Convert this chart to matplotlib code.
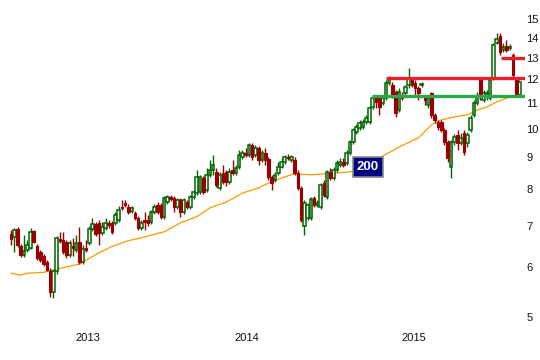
import matplotlib
matplotlib.use('Agg')
import matplotlib.pyplot as plt
import numpy as np

# weekly candles (price)
opens = [6.79, 6.72, 6.91, 6.50, 6.29, 6.40, 6.45, 6.86, 6.50, 6.35,
         6.26, 6.13, 5.91, 5.48, 5.91, 6.66, 6.64, 6.59, 6.29, 6.50,
         6.40, 6.59, 6.13, 6.45, 6.57, 6.91, 7.04, 7.07, 6.82, 6.94,
         7.07, 7.07, 7.07, 7.15, 7.50, 7.61, 7.50, 7.39, 7.34, 7.20,
         6.94, 7.15, 7.15, 7.10, 7.37, 7.56, 7.56, 7.23, 7.64, 7.78,
         7.76, 7.50, 7.70, 7.37, 7.64, 7.50, 7.78, 7.90, 7.93, 8.35,
         7.99, 8.44, 8.60, 8.54, 8.04, 8.51, 8.54, 8.22, 8.60, 8.51,
         8.70, 9.02, 9.15, 9.09, 9.43, 9.09, 9.32, 8.92, 9.15, 8.95,
         8.38, 8.29, 8.51, 8.70, 8.86, 9.02, 8.92, 8.92, 8.51, 8.04,
         6.99, 7.20, 7.20, 7.76, 7.56, 7.50, 8.19, 7.78, 8.54, 8.35,
         8.60, 8.76, 8.86, 8.82, 9.15, 9.53, 9.89, 10.04, 10.07, 10.26,
         10.26, 10.84, 11.21, 11.21, 11.01, 11.21, 11.85, 11.76, 11.46, 10.72,
         11.33, 11.41, 11.76, 11.98, 11.85, 11.63, 11.76, 11.21, 10.92, 11.41,
         10.53, 10.26, 10.26, 9.96, 9.53, 8.70, 9.53, 9.78, 9.50, 9.85,
         9.50, 9.96, 10.53, 11.01, 11.98, 11.13, 11.25, 11.21, 12.07, 13.74,
         14.09, 13.38, 13.58, 13.48, 13.13, 11.98, 11.33]
highs = [6.89, 6.94, 6.97, 6.54, 6.77, 6.64, 6.94, 6.89, 6.54, 6.40,
         6.31, 6.17, 5.99, 5.95, 6.74, 6.84, 6.84, 6.64, 6.64, 6.69,
         6.77, 6.97, 6.52, 6.64, 6.99, 7.20, 7.10, 7.15, 7.10, 7.20,
         7.15, 7.12, 7.37, 7.53, 7.70, 7.70, 7.59, 7.53, 7.39, 7.26,
         7.15, 7.37, 7.28, 7.42, 7.59, 7.64, 7.61, 7.81, 7.84, 7.84,
         7.81, 7.76, 7.76, 7.76, 7.70, 7.84, 7.99, 8.60, 8.44, 8.41,
         8.66, 8.92, 9.09, 8.66, 8.54, 8.76, 8.60, 8.66, 8.92, 8.76,
         9.25, 9.25, 9.32, 9.50, 9.50, 9.43, 9.39, 9.25, 9.32, 9.02,
         8.44, 8.54, 8.86, 8.99, 9.09, 9.12, 9.09, 9.02, 8.60, 8.10,
         7.70, 7.61, 7.78, 7.81, 7.70, 8.19, 8.29, 8.60, 8.66, 8.70,
         8.92, 8.99, 8.99, 9.25, 9.60, 10.04, 10.19, 10.34, 10.38, 10.53,
         10.88, 11.29, 11.33, 11.33, 11.33, 11.98, 12.16, 11.89, 11.54, 11.63,
         11.46, 11.76, 12.52, 12.07, 11.98, 11.72, 11.89, 11.33, 11.29, 11.46,
         10.61, 10.34, 10.34, 10.04, 9.60, 9.60, 9.82, 9.96, 9.85, 9.96,
         9.89, 10.53, 11.13, 11.46, 12.07, 11.54, 11.54, 12.07, 13.74, 14.24,
         14.24, 13.73, 13.88, 13.68, 13.23, 12.07, 11.98]
lows = [6.52, 6.35, 6.47, 6.24, 6.24, 6.35, 6.42, 6.57, 6.17, 6.13,
        6.04, 5.91, 5.38, 5.36, 5.86, 6.57, 6.31, 6.22, 6.24, 6.26,
        6.35, 6.08, 6.08, 6.35, 6.52, 6.86, 6.74, 6.52, 6.77, 6.89,
        6.94, 6.79, 7.02, 7.10, 7.42, 7.50, 7.31, 7.34, 7.15, 6.89,
        6.89, 6.89, 6.99, 7.04, 7.31, 7.31, 7.18, 7.18, 7.59, 7.67,
        7.37, 7.45, 7.23, 7.31, 7.45, 7.45, 7.73, 7.84, 7.87, 7.87,
        7.93, 8.38, 8.44, 8.07, 7.99, 8.16, 8.10, 8.16, 8.44, 8.44,
        8.63, 8.95, 9.02, 9.02, 8.92, 9.02, 8.76, 8.86, 8.76, 8.29,
        7.99, 8.22, 8.44, 8.66, 8.79, 8.92, 8.86, 8.44, 7.99, 7.10,
        6.77, 7.15, 7.15, 7.50, 7.50, 7.45, 7.78, 7.73, 8.29, 8.29,
        8.54, 8.70, 8.70, 8.76, 9.09, 9.46, 9.82, 9.96, 10.00, 10.19,
        10.19, 10.76, 10.80, 10.53, 10.92, 11.13, 11.76, 11.21, 10.46, 10.65,
        11.13, 11.33, 11.63, 11.67, 11.33, 11.13, 11.67, 10.92, 10.80, 10.42,
        10.23, 9.96, 9.89, 9.43, 8.86, 8.35, 9.43, 9.25, 9.43, 9.09,
        9.36, 9.89, 10.46, 10.92, 11.13, 11.05, 11.13, 11.13, 11.98, 13.68,
        13.13, 13.28, 13.28, 13.38, 12.07, 11.25, 11.25]
closes = [6.66, 6.89, 6.52, 6.29, 6.38, 6.52, 6.84, 6.59, 6.22, 6.17,
          6.08, 5.95, 5.48, 5.91, 6.69, 6.62, 6.35, 6.29, 6.57, 6.45,
          6.57, 6.13, 6.42, 6.40, 6.91, 7.04, 6.79, 6.82, 6.97, 7.07,
          7.02, 6.84, 7.28, 7.42, 7.47, 7.56, 7.37, 7.47, 7.20, 6.94,
          7.07, 7.10, 7.07, 7.37, 7.50, 7.37, 7.23, 7.76, 7.78, 7.73,
          7.50, 7.70, 7.37, 7.70, 7.50, 7.78, 7.93, 8.38, 8.38, 7.93,
          8.44, 8.60, 8.76, 8.13, 8.44, 8.22, 8.22, 8.54, 8.51, 8.66,
          9.09, 9.15, 9.09, 9.43, 9.02, 9.32, 8.92, 9.15, 8.92, 8.38,
          8.19, 8.44, 8.70, 8.86, 9.02, 8.99, 9.02, 8.51, 8.04, 7.15,
          7.61, 7.56, 7.73, 7.56, 7.61, 8.13, 7.84, 8.54, 8.35, 8.60,
          8.82, 8.86, 8.76, 9.15, 9.53, 9.96, 10.07, 10.23, 10.26, 10.42,
          10.80, 11.21, 11.05, 10.84, 11.21, 11.85, 12.07, 11.33, 10.61, 11.46,
          11.21, 11.67, 12.03, 11.76, 11.63, 11.41, 11.80, 11.13, 11.21, 10.53,
          10.34, 10.07, 9.96, 9.53, 8.99, 9.53, 9.71, 9.50, 9.67, 9.19,
          9.78, 10.42, 11.01, 11.25, 11.25, 11.41, 11.41, 11.98, 13.63, 13.93,
          13.28, 13.53, 13.38, 13.53, 12.20, 11.33, 11.89]

# 200-day moving average (candle index, price)
ma_idx = [0, 3, 5, 10, 13, 17, 21, 23, 27, 31, 36, 40, 47, 52, 57, 61, 66,
          71, 76, 79, 85, 87, 92, 96, 100, 104, 106, 113, 119, 125, 129,
          132, 136, 140, 143, 146, 149, 153, 156]
ma_val = [5.87, 5.83, 5.87, 5.89, 5.94, 6.01, 6.07, 6.16, 6.33, 6.48, 6.62,
          6.69, 6.84, 7.07, 7.23, 7.47, 7.63, 7.89, 8.04, 8.19, 8.41, 8.47,
          8.44, 8.47, 8.50, 8.53, 8.59, 8.98, 9.35, 9.67, 10.15, 10.33,
          10.45, 10.53, 10.72, 10.84, 11.04, 11.25, 11.30]
ma_label = '200'

# horizontal levels: (price, first candle index)
resistance = 12.04
resistance_start = 115
support = 11.27
support_start = 110.7
stop_level = 13.0
stop_start = 150.3

year_labels = ['2013', '2014', '2015']
year_pos = [23.5, 72.5, 123.6]
price_ticks = [5, 6, 7, 8, 9, 10, 11, 12, 13, 14, 15]

plt.rcParams['font.family'] = ['Liberation Sans', 'DejaVu Sans']

fig = plt.figure(figsize=(5.4, 3.6), dpi=100)
ax = fig.add_axes([0, 35 / 360, 525 / 540, 315 / 360])

o = np.array(opens)
h = np.array(highs)
l = np.array(lows)
c = np.array(closes)
idx = np.arange(len(c))
up = c >= o
green = '#006400'
red = '#9a0000'

ax.plot(ma_idx, ma_val, color='#ff9900', lw=0.9, zorder=1)

ax.vlines(idx[up], l[up], h[up], color=green, lw=1.0, zorder=2)
ax.vlines(idx[~up], l[~up], h[~up], color=red, lw=1.0, zorder=2)
ax.bar(idx[up], c[up] - o[up], bottom=o[up], width=0.8,
       facecolor='white', edgecolor=green, lw=1.1, zorder=3)
ax.bar(idx[~up], o[~up] - c[~up], bottom=c[~up], width=0.8,
       facecolor=red, edgecolor=red, lw=0.8, zorder=3)

x_end = 157.7
ax.hlines(support, support_start, x_end, color='#2aaa4a', lw=2.4, zorder=4)
ax.hlines(resistance, resistance_start, x_end, color='#e8202c', lw=2.4, zorder=4)
ax.hlines(stop_level, stop_start, x_end, color='#e8202c', lw=2.4, zorder=4)

ax.text(109.5, 8.69, ma_label, color='white', fontsize=9.5, fontweight='bold',
        ha='center', va='center', zorder=5,
        bbox=dict(boxstyle='square,pad=0.28', facecolor='#000080',
                  edgecolor='#8a8a8a', lw=1.2))

ax.set_yscale('log')
ax.set_ylim(4.85, 15.5)
ax.set_xlim(-3.37, x_end)
ax.yaxis.tick_right()
ax.set_yticks(price_ticks)
ax.set_yticklabels([str(t) for t in price_ticks])
ax.yaxis.set_minor_locator(matplotlib.ticker.NullLocator())
ax.set_xticks(year_pos)
ax.set_xticklabels(year_labels)
ax.tick_params(axis='both', length=0, labelsize=8, colors='#111111')
ax.tick_params(axis='y', pad=1)
ax.tick_params(axis='x', pad=6)
for s in ax.spines.values():
    s.set_visible(False)

fig.savefig('out.png', dpi=100)
